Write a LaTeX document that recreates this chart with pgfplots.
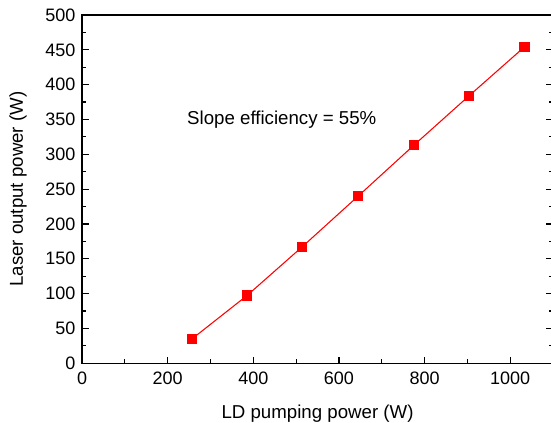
\documentclass[border=0pt]{standalone}
\usepackage{fontspec}
\setmainfont{Liberation Sans}
\usepackage{pgfplots}
\pgfplotsset{compat=1.18}

\begin{document}
\begin{tikzpicture}
\begin{axis}[
  scale only axis,
  width=353pt, height=261pt,
  xmin=0, xmax=1100, ymin=0, ymax=500,
  xtick={0,200,...,1000}, ytick={0,50,...,500},
  minor x tick num=1, minor y tick num=1,
  xtick pos=bottom, ytick pos=both,
  tick align=inside,
  major tick length=5pt, minor tick length=3pt,
  every tick/.style={black, line width=0.9pt},
  axis line style={line width=0.9pt},
  /pgf/number format/assume math mode=true,
  /pgf/number format/set thousands separator={},
  tick label style={font=\fontsize{13.5}{15}\selectfont},
  xticklabel style={yshift=-3pt},
  yticklabel style={xshift=-1.5pt},
  label style={font=\fontsize{14}{16}\selectfont},
  xlabel={LD pumping power (W)},
  ylabel={Laser output power (W)},
  xlabel style={yshift=-8pt},
  ylabel style={yshift=7pt},
]
  \addplot[red, line width=0.8pt, mark=square*, mark size=3.5pt,
    mark options={solid, fill=red}]
    coordinates {(257,35)(385,97)(514,167)(645,240)(775,313)(904,384)(1033,454)};
  \node[anchor=west, font=\fontsize{14}{16}\selectfont, inner sep=0pt]
    at (axis cs:245,349) {Slope efficiency = 55\%};
  \coordinate (sw) at (rel axis cs:0,0);
  \coordinate (ne) at (rel axis cs:1,1);
\end{axis}
\pgfresetboundingbox
\useasboundingbox ([xshift=-61.5pt,yshift=-44.25pt]sw) rectangle ([xshift=-1.5pt,yshift=11.25pt]ne);
\end{tikzpicture}
\end{document}
